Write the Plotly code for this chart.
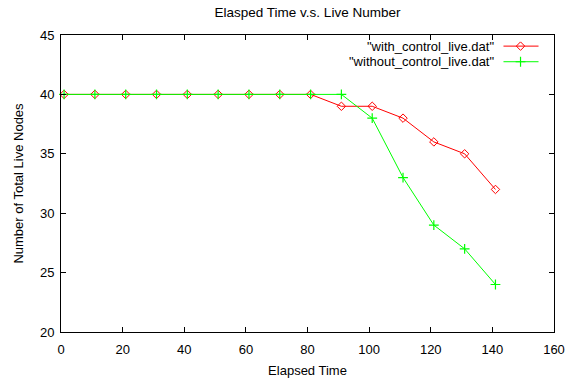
import plotly.graph_objects as go

# Data
elapsed = [1, 11, 21, 31, 41, 51, 61, 71, 81, 91, 101, 111, 121, 131, 141]
with_control = [40, 40, 40, 40, 40, 40, 40, 40, 40, 39, 39, 38, 36, 35, 32]
without_control = [40, 40, 40, 40, 40, 40, 40, 40, 40, 40, 38, 33, 29, 27, 24]
series_names = ['"with_control_live.dat"', '"without_control_live.dat"']
x_ticks = [0, 20, 40, 60, 80, 100, 120, 140, 160]
y_ticks = [20, 25, 30, 35, 40, 45]

RED = "#ff0000"
GREEN = "#00ff00"
FONT = "Liberation Sans, Arial, sans-serif"
FS = 13

fig = go.Figure()
fig.add_trace(go.Scatter(
    x=elapsed, y=with_control, mode="lines+markers", name=series_names[0],
    line=dict(color=RED, width=1),
    marker=dict(symbol="diamond-open", size=6.5, color=RED, line=dict(width=1, color=RED)),
    showlegend=False, cliponaxis=False))
fig.add_trace(go.Scatter(
    x=elapsed, y=without_control, mode="lines+markers", name=series_names[1],
    line=dict(color=GREEN, width=1),
    marker=dict(symbol="cross-thin", size=7, color=GREEN, line=dict(width=1.2, color=GREEN)),
    showlegend=False, cliponaxis=False))

# gnuplot-style legend (samples drawn on an overlay axis in [0,1] coords)
leg_y = [0.9626, 0.910]
leg_colors = [RED, GREEN]
leg_symbols = ["diamond-open", "cross-thin"]
leg_sizes = [6.5, 7]
for i in range(2):
    fig.add_trace(go.Scatter(
        x=[0.8975, 0.9686], y=[leg_y[i], leg_y[i]], mode="lines", xaxis="x2", yaxis="y2",
        line=dict(color=leg_colors[i], width=1), showlegend=False, hoverinfo="skip"))
    fig.add_trace(go.Scatter(
        x=[0.9321], y=[leg_y[i]], mode="markers", xaxis="x2", yaxis="y2",
        marker=dict(symbol=leg_symbols[i], size=leg_sizes[i], color=leg_colors[i],
                    line=dict(width=1 if i == 0 else 1.2, color=leg_colors[i])),
        showlegend=False, hoverinfo="skip"))
    fig.add_annotation(x=0.883, y=leg_y[i], xref="x2", yref="y2", text=series_names[i],
                       showarrow=False, xanchor="right", yanchor="middle",
                       font=dict(family=FONT, size=FS, color="black"))

axis_common = dict(
    showgrid=False, zeroline=False, showline=True, linecolor="black", linewidth=1,
    mirror="allticks", ticks="inside", ticklen=5, tickcolor="black", tickwidth=1,
    tickfont=dict(family=FONT, size=FS, color="black"), automargin=False,
)

fig.update_layout(
    width=567, height=383,
    margin=dict(l=61, r=13, t=35, b=51, autoexpand=False),
    plot_bgcolor="white", paper_bgcolor="white",
    title=dict(text="Elasped Time v.s. Live Number", x=0.5, xref="paper", y=0.968, yanchor="middle",
               font=dict(family=FONT, size=13.5, color="black"), automargin=False),
    xaxis=dict(range=[0, 160], tickvals=x_ticks, ticktext=[str(v) for v in x_ticks],
               ticklabelstandoff=5,
               title=dict(text="Elapsed Time", font=dict(family=FONT, size=FS, color="black"), standoff=10),
               **axis_common),
    yaxis=dict(range=[20, 45], tickvals=y_ticks, ticktext=[str(v) for v in y_ticks],
               ticklabelstandoff=3,
               title=dict(text="Number of Total Live Nodes", font=dict(family=FONT, size=FS, color="black"), standoff=13),
               **axis_common),
    xaxis2=dict(overlaying="x", range=[0, 1], visible=False, fixedrange=True),
    yaxis2=dict(overlaying="y", range=[0, 1], visible=False, fixedrange=True),
    showlegend=False,
)

fig.write_html("out.html")
